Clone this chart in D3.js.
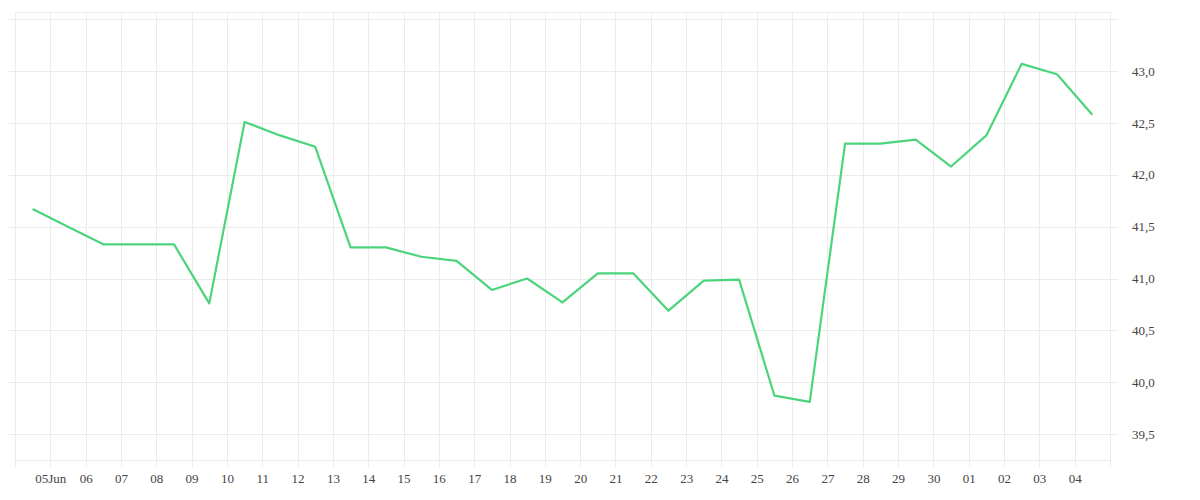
<!DOCTYPE html>
<html>
<head>
<meta charset="utf-8">
<script src="https://cdn.jsdelivr.net/npm/d3@7"></script>
<style>
  body { margin: 0; background: #fff; }
  text { font-family: "Liberation Serif", serif; fill: #444; }
</style>
</head>
<body>
<svg id="chart" width="1200" height="500"></svg>
<script>
// daily values, dates at noon from 04 Jun to 04 Jul
const startDay = new Date(2023, 5, 4, 12)
const values = [41.67, 41.50, 41.33, 41.33, 41.33, 40.76, 42.51, 42.38, 42.27, 41.30,
  41.30, 41.21, 41.17, 40.89, 41.00, 40.77, 41.05, 41.05, 40.69, 40.98,
  40.99, 39.87, 39.81, 42.30, 42.30, 42.34, 42.08, 42.38, 43.07, 42.97, 42.58]
const yTicks = [39.5, 40.0, 40.5, 41.0, 41.5, 42.0, 42.5, 43.0]
const yGrid = [39.5, 40.0, 40.5, 41.0, 41.5, 42.0, 42.5, 43.0, 43.5]

const data = values.map((v, i) => ({ date: d3.timeDay.offset(startDay, i), value: v }))

const mLeft = 15, mRight = 1110, mTop = 12, mBottom = 460
const svg = d3.select('#chart')

const x = d3.scaleTime().domain([new Date(2023, 5, 4), new Date(2023, 6, 5)]).range([mLeft, mRight])
const y = d3.scaleLinear().domain([39.25, 43.57]).range([mBottom, mTop])

const dayTicks = d3.timeDay.range(new Date(2023, 5, 5), new Date(2023, 6, 5))

// grid
const grid = svg.append('g').attr('stroke', '#ececec').attr('stroke-width', 1)
grid.selectAll('.vg').data(dayTicks).enter().append('line')
  .attr('x1', d => Math.round(x(d)) + 0.5).attr('x2', d => Math.round(x(d)) + 0.5)
  .attr('y1', mTop).attr('y2', mBottom + 7)
grid.selectAll('.hg').data(yGrid).enter().append('line')
  .attr('x1', mLeft - 8).attr('x2', mRight + 8)
  .attr('y1', d => Math.round(y(d)) + 0.5).attr('y2', d => Math.round(y(d)) + 0.5)
grid.append('line').attr('x1', mLeft + 0.5).attr('x2', mLeft + 0.5).attr('y1', mTop).attr('y2', mBottom + 7)
grid.append('line').attr('x1', mRight + 0.5).attr('x2', mRight + 0.5).attr('y1', mTop).attr('y2', mBottom + 7)
grid.append('line').attr('x1', mLeft).attr('x2', mRight).attr('y1', mBottom + 0.5).attr('y2', mBottom + 0.5)
grid.append('line').attr('x1', mLeft).attr('x2', mRight).attr('y1', mTop + 0.5).attr('y2', mTop + 0.5)

// x axis labels
const fmt = (d, i) => i === 0 ? d3.timeFormat('%d%b')(d) : d3.timeFormat('%d')(d)
const xAxis = d3.axisBottom(x).tickValues(dayTicks).tickFormat(fmt).tickSize(0).tickPadding(8)
const gx = svg.append('g').attr('transform', `translate(0, ${mBottom + 6})`).call(xAxis)
gx.select('.domain').remove()
gx.selectAll('text').attr('font-size', '13px').style('font-family', '"Liberation Serif", serif').attr('fill', '#444')

// y axis labels
const yAxis = d3.axisRight(y).tickValues(yTicks).tickFormat(d => d3.format('.1f')(d).replace('.', ',')).tickSize(0).tickPadding(22)
const gy = svg.append('g').attr('transform', `translate(${mRight}, 0)`).call(yAxis)
gy.select('.domain').remove()
gy.selectAll('text').attr('font-size', '13px').style('font-family', '"Liberation Serif", serif').attr('fill', '#444')

// line
const line = d3.line().x(d => x(d.date)).y(d => y(d.value))
svg.append('path').datum(data)
  .attr('d', line)
  .attr('fill', 'none')
  .attr('stroke', '#4cd47c')
  .attr('stroke-width', 2.2)
  .attr('stroke-linejoin', 'round')
</script>
</body>
</html>
